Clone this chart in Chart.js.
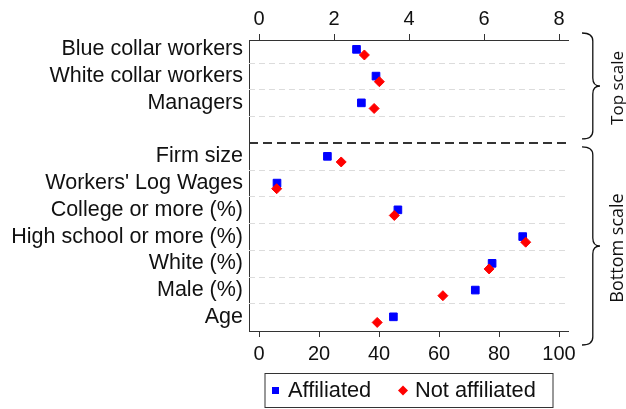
<!DOCTYPE html>
<html><head><meta charset="utf-8">
<script src="https://cdn.jsdelivr.net/npm/chart.js@4.4.0/dist/chart.umd.min.js"></script>
<style>html,body{margin:0;padding:0;background:#fff;}#wrap{width:626px;height:409px;}</style>
</head><body><div id="wrap"><canvas id="c" width="626" height="409"></canvas></div>
<script>
// ---- data ----
const categories = ['Blue collar workers','White collar workers','Managers','Firm size',"Workers' Log Wages",'College or more (%)','High school or more (%)','White (%)','Male (%)','Age'];
const scaleGroup = ['top','top','top','bottom','bottom','bottom','bottom','bottom','bottom','bottom'];
const affiliated    = [2.60, 3.12, 2.73, 22.8, 6.0, 46.3, 87.9, 77.7, 72.1, 44.8];
const notAffiliated = [2.81, 3.21, 3.07, 27.4, 5.9, 45.1, 88.9, 76.7, 61.3, 39.4];
const topTicks = [0, 2, 4, 6, 8];
const bottomTicks = [0, 20, 40, 60, 80, 100];
const seriesNames = ['Affiliated', 'Not affiliated'];
const groupNames = ['Top scale', 'Bottom scale'];

// ---- build ----
const FONT = "'Liberation Sans', Arial, sans-serif";
const SIDE_FONT = "'Open Sans', 'Noto Sans', sans-serif";
const BLUE = '#0000ff', RED = '#ff0000', AXIS = '#333333';
const rows = [];
{ let r = 0; categories.forEach((c, i) => { if (i > 0 && scaleGroup[i] !== scaleGroup[i-1]) r++; rows.push(r++); }); }
const OFFSET = 0.21;
function pts(vals, grp, off) {
  return categories.map((c, i) => scaleGroup[i] === grp ? {x: vals[i], y: rows[i] + off} : null).filter(Boolean);
}
const BMIN = -10/3, BMAX = 103, RATIO = topTicks[topTicks.length-1] / bottomTicks[bottomTicks.length-1];
const lastRow = rows[rows.length-1];

const ptA = {pointStyle: 'rect', pointRadius: 5.4, backgroundColor: BLUE, borderColor: BLUE, borderWidth: 1, showLine: false, order: 2};
const ptN = {pointStyle: 'rectRot', pointRadius: 5.0, backgroundColor: RED, borderColor: RED, borderWidth: 1, showLine: false, order: 1};

const gridPlugin = {
  id: 'rowlines',
  beforeDatasetsDraw(chart) {
    const {ctx, chartArea: a, scales: {y}} = chart;
    ctx.save();
    for (let i = 0; i < rows.length - 1; i++) {
      const lines = [];
      if (scaleGroup[i] === scaleGroup[i+1]) lines.push([(rows[i] + rows[i+1]) / 2, false]);
      else { lines.push([rows[i] + 0.5, false]); lines.push([rows[i+1] - 0.5, true]); }
      lines.forEach(([v, major]) => {
        const py = Math.round(y.getPixelForValue(v)) + (major ? 0 : 0.5);
        ctx.beginPath();
        ctx.setLineDash(major ? [9, 5] : [6, 4]);
        ctx.strokeStyle = major ? '#333333' : '#dcdcdc';
        ctx.lineWidth = major ? 2 : 1;
        ctx.moveTo(a.left, py); ctx.lineTo(a.right, py); ctx.stroke();
      });
    }
    ctx.restore();
  }
};

function brace(ctx, x, y1, y2, w) {
  const ym = (y1 + y2) / 2, xv = x + w * 0.6, r = 8;
  ctx.beginPath();
  ctx.moveTo(x, y1);
  ctx.quadraticCurveTo(xv, y1, xv, y1 + r);
  ctx.lineTo(xv, ym - r);
  ctx.quadraticCurveTo(xv, ym, x + w, ym);
  ctx.quadraticCurveTo(xv, ym, xv, ym + r);
  ctx.lineTo(xv, y2 - r);
  ctx.quadraticCurveTo(xv, y2, x, y2);
  ctx.stroke();
}

const sidePlugin = {
  id: 'side',
  afterDraw(chart) {
    const {ctx, chartArea: a, scales: {y}} = chart;
    const gapRow = rows[3] - 0.5;
    const groups = [
      [a.top - 7, y.getPixelForValue(gapRow) - 4, 17],
      [y.getPixelForValue(gapRow) + 4, a.bottom + 14, 18]
    ];
    ctx.save();
    ctx.strokeStyle = '#111'; ctx.lineWidth = 1.3; ctx.fillStyle = '#111';
    groups.forEach(([t, b, fs], gi) => {
      brace(ctx, a.right + 14, t, b, 18);
      ctx.save();
      ctx.translate(a.right + 55, (t + b) / 2 + 2);
      ctx.rotate(-Math.PI / 2);
      ctx.font = fs + 'px ' + SIDE_FONT;
      ctx.textAlign = 'center'; ctx.textBaseline = 'alphabetic';
      ctx.fillText(groupNames[gi], 0, 0);
      ctx.restore();
    });
    // legend
    const lx = 265, ly = 373.5, lw = 288, lh = 34, cy = ly + lh / 2;
    ctx.setLineDash([]);
    ctx.lineWidth = 1; ctx.strokeStyle = '#333';
    ctx.strokeRect(lx, ly, lw, lh);
    ctx.font = '21.8px ' + FONT; ctx.textBaseline = 'middle'; ctx.textAlign = 'left';
    ctx.fillStyle = BLUE; ctx.fillRect(lx + 7, cy - 3.5, 7, 7);
    ctx.fillStyle = '#111'; ctx.fillText(seriesNames[0], lx + 23, cy + 0.5);
    ctx.fillStyle = RED;
    ctx.beginPath(); const dx = lx + 138, d = 5;
    ctx.moveTo(dx, cy - d); ctx.lineTo(dx + d, cy); ctx.lineTo(dx, cy + d); ctx.lineTo(dx - d, cy); ctx.closePath(); ctx.fill();
    ctx.fillStyle = '#111'; ctx.fillText(seriesNames[1], lx + 150, cy + 0.5);
    ctx.restore();
  }
};

const tickFont = {family: FONT, size: 20};
new Chart(document.getElementById('c'), {
  type: 'scatter',
  data: {
    datasets: [
      Object.assign({label: seriesNames[1], data: pts(notAffiliated, 'top', OFFSET), xAxisID: 'xTop'}, ptN),
      Object.assign({label: seriesNames[1], data: pts(notAffiliated, 'bottom', OFFSET), xAxisID: 'x'}, ptN),
      Object.assign({label: seriesNames[0], data: pts(affiliated, 'top', 0), xAxisID: 'xTop'}, ptA),
      Object.assign({label: seriesNames[0], data: pts(affiliated, 'bottom', 0), xAxisID: 'x'}, ptA)
    ]
  },
  options: {
    responsive: false, animation: false, devicePixelRatio: 1,
    layout: {padding: {left: 0, right: 58, top: 0, bottom: 0}},
    plugins: {legend: {display: false}, tooltip: {enabled: false}},
    scales: {
      x: {
        type: 'linear', position: 'bottom', min: BMIN, max: BMAX,
        afterBuildTicks: s => { s.ticks = bottomTicks.map(v => ({value: v})); },
        afterFit: s => { s.height = 78; },
        grid: {display: true, drawOnChartArea: false, drawTicks: true, tickLength: 6, color: AXIS},
        border: {display: true, color: AXIS, width: 1},
        ticks: {font: tickFont, color: '#111', padding: 5, maxRotation: 0, autoSkip: false}
      },
      xTop: {
        type: 'linear', position: 'top', min: BMIN * RATIO, max: BMAX * RATIO,
        afterBuildTicks: s => { s.ticks = topTicks.map(v => ({value: v})); },
        afterFit: s => { s.height = 40; },
        grid: {display: true, drawOnChartArea: false, drawTicks: true, tickLength: 6, color: AXIS},
        border: {display: true, color: AXIS, width: 1},
        ticks: {font: tickFont, color: '#111', padding: 3, maxRotation: 0, autoSkip: false}
      },
      y: {
        type: 'linear', reverse: true, min: -0.35, max: lastRow + 0.53,
        afterBuildTicks: s => { s.ticks = rows.map(v => ({value: v})); },
        afterFit: s => { s.width = 249; },
        grid: {display: true, drawOnChartArea: false, drawTicks: false},
        border: {display: true, color: AXIS, width: 1},
        ticks: {font: {family: FONT, size: 21.5}, color: '#111', padding: 6, autoSkip: false,
          callback: v => { const i = rows.indexOf(v); return i >= 0 ? categories[i] : ''; }}
      }
    }
  },
  plugins: [gridPlugin, sidePlugin]
});
</script></body></html>
